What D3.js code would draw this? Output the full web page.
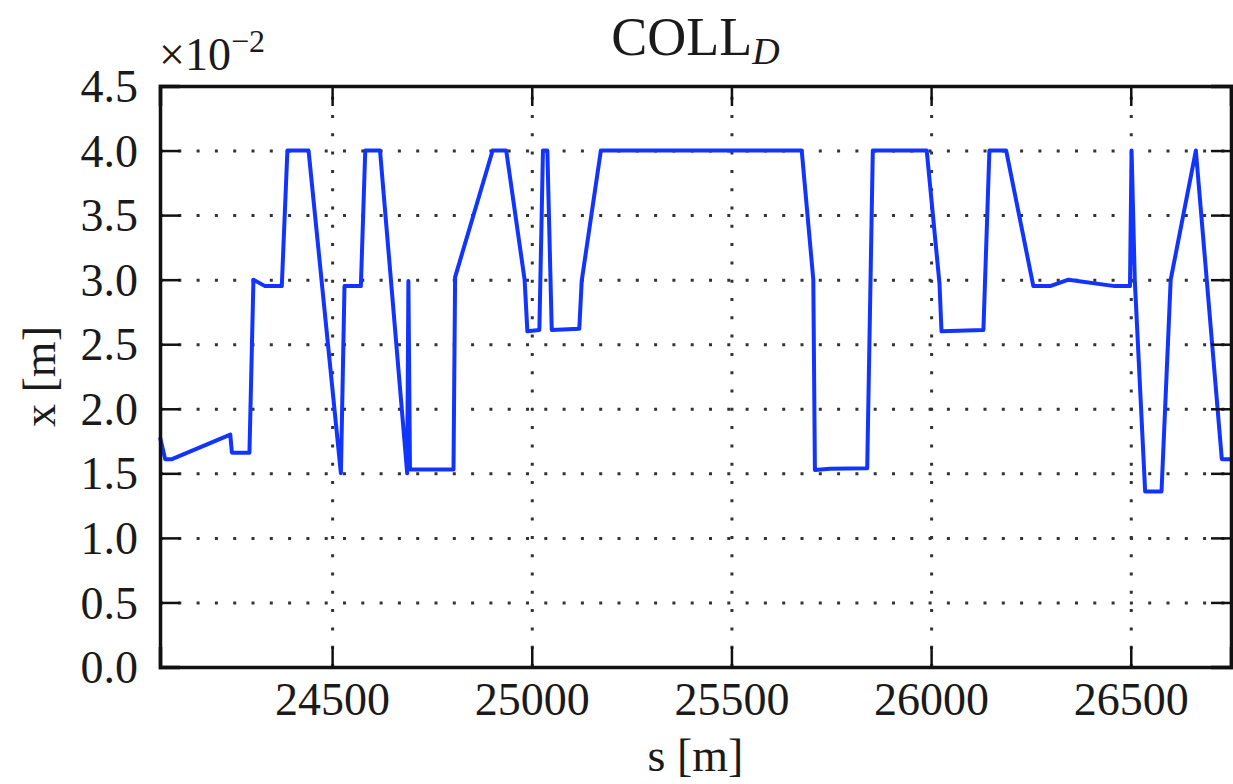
<!DOCTYPE html>
<html>
<head>
<meta charset="utf-8">
<script src="https://cdn.jsdelivr.net/npm/d3@7"></script>
<style>
  body { margin: 0; background: #fff; }
  svg text { font-family: "Liberation Serif", "DejaVu Serif", serif; fill: #1a1a1a; }
</style>
</head>
<body>
<svg id="chart" width="1233" height="784"></svg>
<script>
// position along the ring [m]
const sValues = [24069, 24082, 24099, 24245, 24249, 24293, 24303, 24332, 24374, 24388,
                 24441, 24522, 24531, 24572, 24583, 24620, 24688, 24691, 24695, 24804,
                 24808, 24902, 24936, 24982, 24989, 25019, 25028, 25039, 25050, 25119,
                 25125, 25173, 25676, 25705, 25709, 25747, 25840, 25854, 25989, 26021,
                 26026, 26131, 26146, 26188, 26256, 26298, 26344, 26460, 26498, 26502,
                 26510, 26536, 26577, 26600, 26663, 26728, 26751]
// aperture in units of 1e-2 m
const xValues = [1.78, 1.61, 1.61, 1.80, 1.66, 1.66, 3.00, 2.95, 2.95, 4.0,
                 4.0, 1.50, 2.95, 2.95, 4.0, 4.0, 1.50, 2.99, 1.53, 1.53,
                 3.02, 4.0, 4.0, 3.0, 2.60, 2.61, 4.0, 4.0, 2.61, 2.62,
                 2.99, 4.0, 4.0, 3.0, 1.525, 1.535, 1.54, 4.0, 4.0, 2.97,
                 2.60, 2.61, 4.0, 4.0, 2.95, 2.95, 3.0, 2.95, 2.95, 4.0,
                 3.0, 1.36, 1.36, 3.0, 4.0, 1.61, 1.61]
const xTicks = [24500, 25000, 25500, 26000, 26500]
const yTicks = [0, 0.005, 0.01, 0.015, 0.02, 0.025, 0.03, 0.035, 0.04, 0.045]

const data = sValues.map((s, i) => ({ s: s, x: xValues[i] * 1e-2 }))

const margin = { left: 160, top: 86, right: 2, bottom: 117 }
const svg = d3.select("#chart")
const W = +svg.attr("width"), H = +svg.attr("height")
const width = W - margin.left - margin.right
const height = H - margin.top - margin.bottom

const g = svg.append("g").attr("transform", "translate(" + margin.left + "," + margin.top + ")")

const x_scale = d3.scaleLinear().domain(d3.extent(sValues)).range([0, width])
const y_scale = d3.scaleLinear().domain([0, 0.045]).range([height, 0])

const fontSize = 46

// dotted grid
g.append("g")
    .attr("class", "grid")
    .call(d3.axisLeft(y_scale).tickValues(yTicks).tickSize(-width).tickFormat(""))
    .call(a => a.select(".domain").remove())
g.append("g")
    .attr("class", "grid")
    .attr("transform", "translate(0," + height + ")")
    .call(d3.axisBottom(x_scale).tickValues(xTicks).tickSize(-height).tickFormat(""))
    .call(a => a.select(".domain").remove())
g.selectAll(".grid line")
    .attr("stroke", "#333")
    .attr("stroke-width", 3)
    .attr("stroke-dasharray", "3,15.3")

// the aperture line
const line = d3.line().x(d => x_scale(d.s)).y(d => y_scale(d.x))
g.append("path")
    .datum(data)
    .attr("fill", "none")
    .attr("stroke", "#1234ff")
    .attr("stroke-width", 4)
    .attr("stroke-linejoin", "round")
    .attr("d", line)

// axes with inward ticks on all four sides
const yAxis = g.append("g")
    .call(d3.axisLeft(y_scale).tickValues(yTicks).tickSize(-20).tickPadding(22)
        .tickFormat(d => (d * 100).toFixed(1)))
const xAxis = g.append("g")
    .attr("transform", "translate(0," + height + ")")
    .call(d3.axisBottom(x_scale).tickValues(xTicks).tickSize(-20).tickFormat(d3.format("d")))
g.append("g")
    .attr("transform", "translate(" + width + ",0)")
    .call(d3.axisRight(y_scale).tickValues(yTicks).tickSize(-20).tickFormat(""))
g.append("g")
    .call(d3.axisTop(x_scale).tickValues(xTicks).tickSize(-20).tickFormat(""))

g.selectAll(".domain").attr("stroke", "#111").attr("stroke-width", 3.5)
g.selectAll(".tick line").filter(function() { return !this.closest(".grid") })
    .attr("stroke", "#111").attr("stroke-width", 2.5)
g.selectAll(".tick text")
    .attr("font-family", "Liberation Serif, DejaVu Serif, serif")
    .attr("font-size", fontSize + "px")
    .attr("fill", "#1a1a1a")
yAxis.selectAll(".tick text").attr("dy", "0.34em")
xAxis.selectAll(".tick text").attr("dy", null).attr("y", 48)

// offset label
const off = svg.append("text")
    .attr("x", margin.left - 1)
    .attr("y", 70)
    .attr("font-size", fontSize + "px")
off.append("tspan").text("×10")
off.append("tspan").attr("font-size", "32px").attr("dy", -18).text("−2")

// title
const title = svg.append("text")
    .attr("x", margin.left + width / 2)
    .attr("y", 55)
    .attr("text-anchor", "middle")
    .attr("font-size", "54px")
title.append("tspan").text("COLL")
title.append("tspan").attr("font-size", "38px").attr("font-style", "italic").attr("dy", 9).text("D")

// axis labels
svg.append("text")
    .attr("x", margin.left + width / 2)
    .attr("y", 771)
    .attr("text-anchor", "middle")
    .attr("font-size", fontSize + "px")
    .text("s [m]")
svg.append("text")
    .attr("transform", "translate(55," + (margin.top + height / 2) + ") rotate(-90)")
    .attr("text-anchor", "middle")
    .attr("font-size", fontSize + "px")
    .text("x [m]")
</script>
</body>
</html>
